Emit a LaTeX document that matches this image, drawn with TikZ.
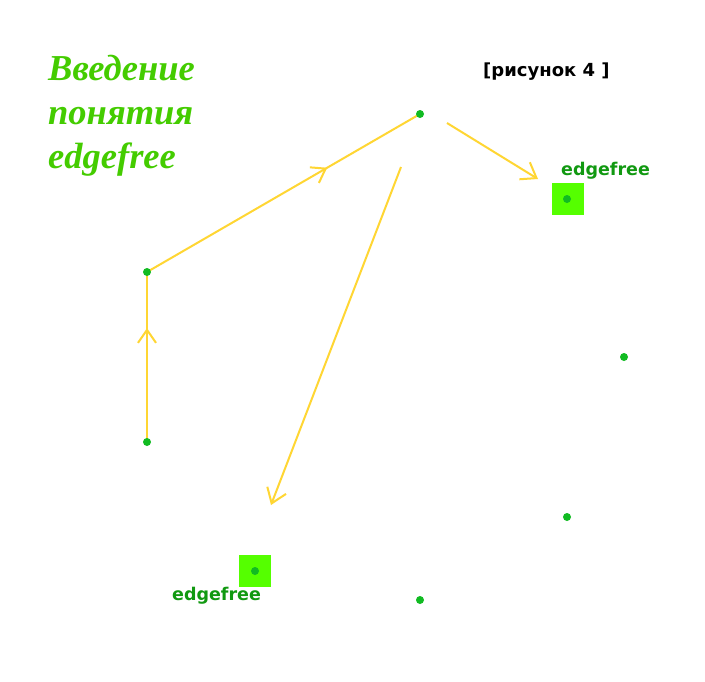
\documentclass[tikz,border=0pt]{standalone}
\usepackage{fontspec}
\setmainfont{Liberation Serif}
\newfontfamily\dvs{DejaVu Sans}
\newfontfamily\ttlfont{Liberation Serif}[UprightFont=* Bold Italic]
\usetikzlibrary{arrows.meta,decorations.markings,backgrounds}
\definecolor{titlegreen}{HTML}{44CC00}
\definecolor{labgreen}{HTML}{119911}
\definecolor{sqgreen}{HTML}{55FF00}
\definecolor{dotgreen}{HTML}{11BB22}
\definecolor{edgeyellow}{HTML}{FFD633}
\tikzset{
  pt/.style={circle,fill=dotgreen,inner sep=0pt,minimum size=8pt},
  sq/.style={fill=sqgreen,inner sep=0pt,minimum size=32pt},
  lab/.style={font=\dvs\bfseries\fontsize{17.5}{20}\selectfont,text=labgreen,inner sep=0pt},
  ttl/.style={anchor=base west,inner sep=0pt,text=titlegreen,font=\ttlfont\fontsize{36.5}{44}\selectfont},
  edge/.style={draw=edgeyellow,line width=2pt},
  vtip/.style={-{Straight Barb[length=14pt,width=20pt,line width=2pt]}},
  midarrow/.style={postaction={decorate},decoration={markings,mark=at position #1 with {\arrow{Straight Barb[length=13pt,width=18pt,line width=2pt]}}}}
}
\begin{document}
\begin{tikzpicture}[x=1pt,y=-1pt]
\begin{scope}[on background layer]
\fill[white] (0,0) rectangle (705,681);
\end{scope}
\useasboundingbox (0,0) rectangle (705,681);
% title
\node[ttl] (t1) at (48,80) {Введение};
\node[ttl] (t2) at (48,124) {понятия};
\node[ttl] (t3) at (48,168) {edgefree};
\node[anchor=base west,inner sep=0pt,font=\dvs\bfseries\fontsize{18}{20}\selectfont] (fig) at (483,76) {[рисунок 4 ]};
% squares
\node[sq] (s1) at (568,199) {};
\node[sq] (s2) at (255,571) {};
% points
\node[pt] (p1) at (420,114) {};
\node[pt] (p2) at (147,272) {};
\node[pt] (p3) at (147,442) {};
\node[pt] (p4) at (567,199) {};
\node[pt] (p5) at (624,357) {};
\node[pt] (p6) at (567,517) {};
\node[pt] (p7) at (420,600) {};
\node[pt] (p8) at (255,571) {};
% labels
\node[lab,anchor=base west] (l1) at (561,175) {edgefree};
\node[lab,anchor=base west] (l2) at (172,600) {edgefree};
% free ends
\coordinate (a3s) at (447,123);
\coordinate (a3e) at (538,179);
\coordinate (a4s) at (401,167);
\coordinate (a4e) at (271,505);
% edges
\begin{scope}[on background layer]
\draw[edge,midarrow=0.67] (p3.center) -- (p2.center);
\draw[edge,midarrow=0.66] (p2.center) -- (p1.center);
\draw[edge,vtip] (a3s) -- (a3e);
\draw[edge,vtip] (a4s) -- (a4e);
\end{scope}
\end{tikzpicture}
\end{document}
